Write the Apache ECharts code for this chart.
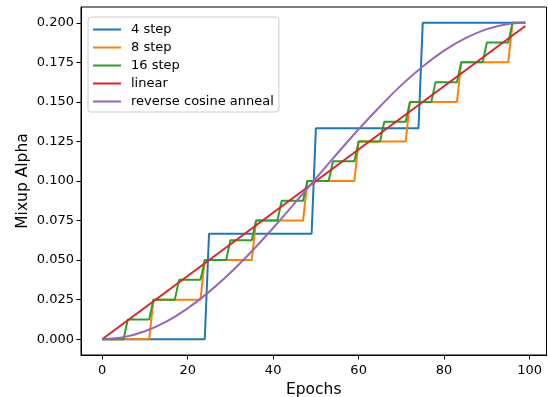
<!DOCTYPE html>
<html>
<head>
<meta charset="utf-8">
<script src="https://cdn.jsdelivr.net/npm/echarts@6/dist/echarts.min.js"></script>
<style>
  html, body { margin: 0; padding: 0; background: #fff; }
  #chart { width: 548px; height: 397px; }
</style>
</head>
<body>
<div id="chart"></div>
<script>
// breakpoints of each schedule: [epoch, alpha]
const step4 = [
  [0, 0], [24, 0], [25, 0.0667], [49, 0.0667],
  [50, 0.1333], [74, 0.1333], [75, 0.2], [99, 0.2],
];
const step8 = [
  [0, 0], [11, 0], [12, 0.025], [23, 0.025], [24, 0.05], [35, 0.05],
  [36, 0.075], [47, 0.075], [48, 0.1], [59, 0.1], [60, 0.125], [71, 0.125],
  [72, 0.15], [83, 0.15], [84, 0.175], [95, 0.175], [96, 0.2], [99, 0.2],
];
const step16 = [
  [0, 0], [5, 0], [6, 0.0125], [11, 0.0125], [12, 0.025], [17, 0.025],
  [18, 0.0375], [23, 0.0375], [24, 0.05], [29, 0.05], [30, 0.0625], [35, 0.0625],
  [36, 0.075], [41, 0.075], [42, 0.0875], [47, 0.0875], [48, 0.1], [53, 0.1],
  [54, 0.1125], [59, 0.1125], [60, 0.125], [65, 0.125], [66, 0.1375], [71, 0.1375],
  [72, 0.15], [77, 0.15], [78, 0.1625], [83, 0.1625], [84, 0.175], [89, 0.175],
  [90, 0.1875], [95, 0.1875], [96, 0.2], [99, 0.2],
];
const linear = [[0, 0], [99, 0.198]];
const cosine = [
  [0, 0], [5, 0.0013], [10, 0.005], [15, 0.0111], [20, 0.0195], [25, 0.0299],
  [30, 0.042], [35, 0.0556], [40, 0.0703], [45, 0.0858], [50, 0.1016],
  [55, 0.1174], [60, 0.1327], [65, 0.1471], [70, 0.1606], [75, 0.1724],
  [80, 0.1824], [85, 0.1903], [90, 0.196], [95, 0.1992], [99, 0.2],
];

const seriesNames = ['4 step', '8 step', '16 step', 'linear', 'reverse cosine anneal'];
const seriesData = [step4, step8, step16, linear, cosine];
const xTicks = [0, 20, 40, 60, 80, 100];
const yTicks = [0, 0.025, 0.05, 0.075, 0.1, 0.125, 0.15, 0.175, 0.2];

// matplotlib tab10
const COLORS = ['#1f77b4', '#ff7f0e', '#2ca02c', '#d62728', '#9467bd'];
const FONT = '"DejaVu Sans", sans-serif';

const chart = echarts.init(document.getElementById('chart'));

const axisCommon = {
  axisLine: { show: true, onZero: false, lineStyle: { color: '#000', width: 1 } },
  axisTick: { show: true, length: 4.5, lineStyle: { color: '#000', width: 1 } },
  splitLine: { show: false },
  nameLocation: 'middle',
  nameMoveOverlap: false,
  nameTextStyle: { fontFamily: FONT, fontSize: 15.5, color: '#000' },
};

chart.setOption({
  animation: false,
  color: COLORS,
  textStyle: { fontFamily: FONT },
  grid: {
    left: 81, right: 1.5, top: 7, bottom: 42,
    // keep the plot box fixed; don't shrink it to fit the axis names
    outerBoundsMode: 'none',
    containLabel: false,
    show: true, borderColor: '#000', borderWidth: 1, backgroundColor: '#fff',
  },
  legend: {
    left: 88, top: 17,
    orient: 'vertical',
    data: seriesNames,
    itemWidth: 28, itemHeight: 14, itemGap: 5,
    padding: [6, 5, 4, 4],
    // hide the marker dot, keep only the line sample like matplotlib
    itemStyle: { opacity: 0 },
    backgroundColor: 'rgba(255,255,255,0.8)',
    borderColor: '#cccccc', borderWidth: 1, borderRadius: 3,
    textStyle: { fontFamily: FONT, fontSize: 13, color: '#000', padding: [0, 0, 0, 5] },
  },
  xAxis: Object.assign({}, axisCommon, {
    type: 'value', min: -4.95, max: 103.95,
    name: 'Epochs', nameGap: 27,
    axisTick: Object.assign({}, axisCommon.axisTick, { customValues: xTicks }),
    axisLabel: {
      customValues: xTicks, margin: 9,
      fontFamily: FONT, fontSize: 13, color: '#000',
    },
  }),
  yAxis: Object.assign({}, axisCommon, {
    type: 'value', min: -0.01, max: 0.21,
    name: 'Mixup Alpha', nameGap: 50,
    axisTick: Object.assign({}, axisCommon.axisTick, { customValues: yTicks }),
    axisLabel: {
      customValues: yTicks, margin: 7,
      fontFamily: FONT, fontSize: 13, color: '#000',
      formatter: (v) => v.toFixed(3),
    },
  }),
  series: seriesNames.map((name, i) => ({
    name,
    type: 'line',
    data: seriesData[i],
    symbol: 'none',
    smooth: name === 'reverse cosine anneal' ? 0.3 : false,
    lineStyle: { width: 2, color: COLORS[i] },
    itemStyle: { color: COLORS[i] },
  })),
});
</script>
</body>
</html>
